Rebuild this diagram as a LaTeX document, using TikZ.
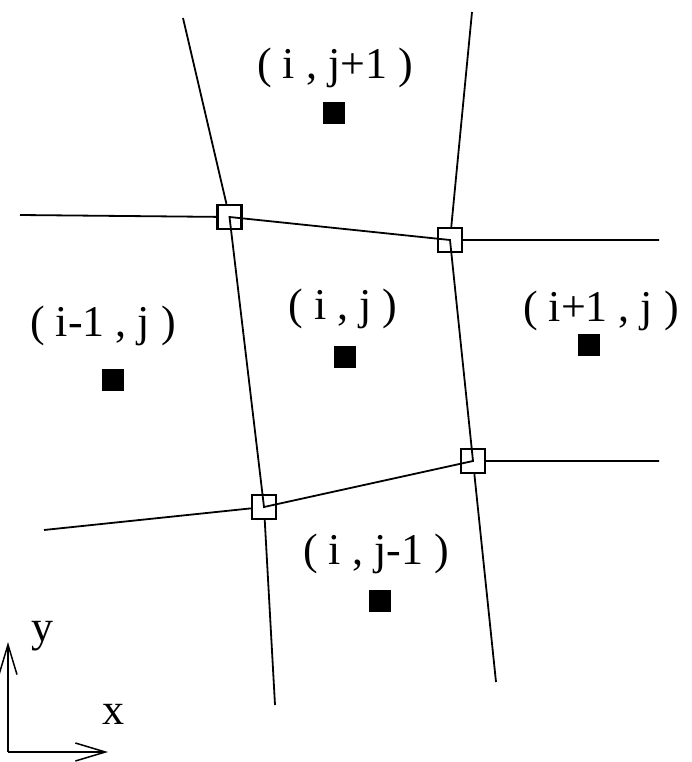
\documentclass[tikz,border=0pt]{standalone}
\usepackage{fontspec}
\setmainfont{Liberation Serif}
\usetikzlibrary{arrows.meta}
\begin{document}
\begin{tikzpicture}[x=1pt,y=-1pt,
  gridline/.style={line width=1.8pt,black},
  vert/.style={draw,line width=2.4pt,minimum size=24pt,inner sep=0pt},
  cell/.style={fill=black,minimum size=22pt,inner sep=0pt},
  lbl/.style={font=\fontsize{44}{50}\selectfont,inner sep=0pt},
  axis/.style={line width=1.5pt,-{Straight Barb[length=30pt,width=18pt,line width=1.5pt]}}]
\useasboundingbox (0,0) rectangle (691,762);
% vertex coordinates
\coordinate (v1) at (229.5,217);
\coordinate (v2) at (450,240);
\coordinate (v3) at (473,461);
\coordinate (v4) at (264,507);
\node[vert] (n1) at (v1) {};
\node[vert] (n2) at (v2) {};
\node[vert] (n3) at (v3) {};
\node[vert] (n4) at (v4) {};
% outer ends
\coordinate (e1u) at (183,18);
\coordinate (e1l) at (20,215);
\coordinate (e2u) at (472,12);
\coordinate (e2r) at (659,240);
\coordinate (e3r) at (659,461);
\coordinate (e3d) at (496,682);
\coordinate (e4l) at (44,530);
\coordinate (e4d) at (275,705);
\draw[gridline] (n1) -- (e1u) (n1) -- (e1l) (n2) -- (e2u) (n2) -- (e2r)
  (n3) -- (e3r) (n3) -- (e3d) (n4) -- (e4l) (n4) -- (e4d);
\draw[gridline] (v1) -- (v2) -- (v3) -- (v4) -- cycle;
% cell centres
\node[cell] (cN) at (334,113) {};
\node[cell] (cC) at (345,357) {};
\node[cell] (cE) at (589,345) {};
\node[cell] (cW) at (113,380) {};
\node[cell] (cS) at (380,601) {};
\node[lbl] (tN) at (335,68) {( i , j+1 )};
\node[lbl] (tC) at (343,309) {( i , j )};
\node[lbl] (tE) at (601,311) {( i+1 , j )};
\node[lbl] (tW) at (103,326) {( i-1 , j )};
\node[lbl] (tS) at (376,554) {( i , j-1 )};
% axes
\coordinate (o) at (8,752);
\coordinate (ay) at (8,642);
\coordinate (ax) at (108,752);
\draw[axis] (o) -- (ay);
\draw[axis] (o) -- (ax);
\node[lbl] (ly) at (42,636) {y};
\node[lbl] (lx) at (113,714) {x};
\end{tikzpicture}
\end{document}
